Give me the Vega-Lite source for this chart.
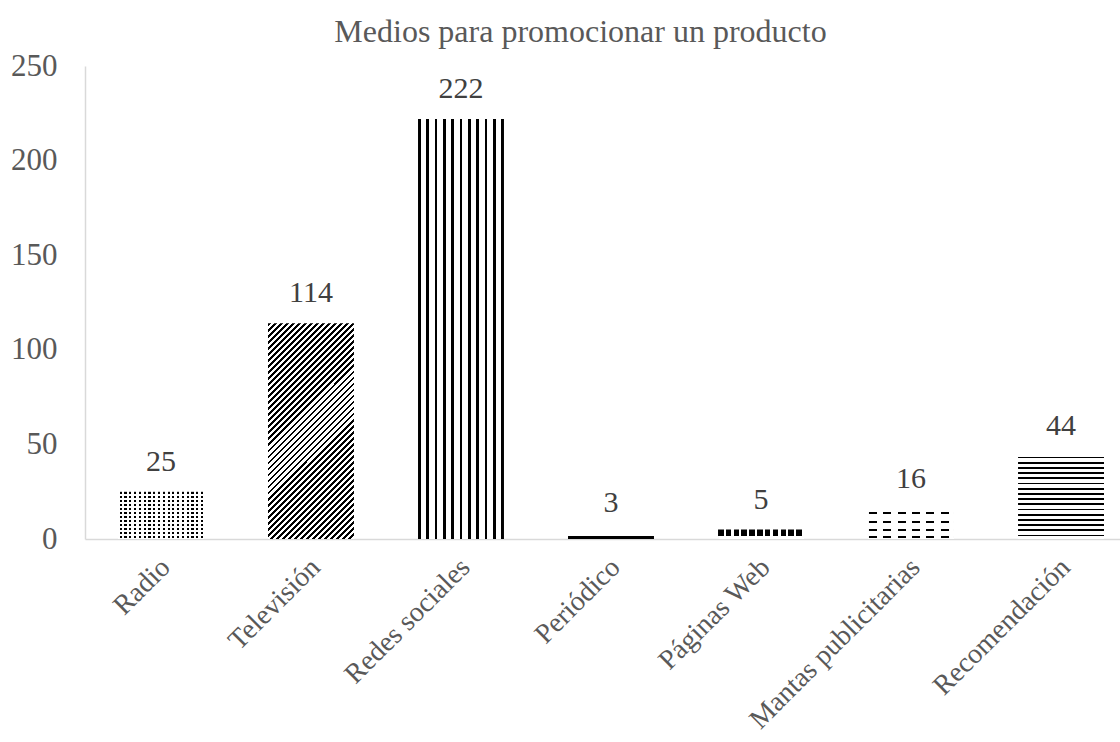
{
"$schema": "https://vega.github.io/schema/vega-lite/v6.json",
"width": 1035,
"height": 473,
"autosize": {"type": "none"},
"padding": {"left": 85, "top": 66, "right": 0, "bottom": 203},
"background": "white",
"config": {"view": {"stroke": null}, "font": "Liberation Serif"},
"title": {"text": "Medios para promocionar un producto", "font": "Liberation Serif", "fontSize": 32, "fontWeight": "normal", "color": "#595959", "anchor": "middle", "frame": "group", "dx": -22, "dy": 36, "baseline": "alphabetic", "offset": 12},
"data": {"values": [
{"medio": "Radio", "valor": 25},
{"medio": "Televisión", "valor": 114},
{"medio": "Redes sociales", "valor": 222},
{"medio": "Periódico", "valor": 3},
{"medio": "Páginas Web", "valor": 5},
{"medio": "Mantas publicitarias", "valor": 16},
{"medio": "Recomendación", "valor": 44}
]},
"encoding": {
"x": {"field": "medio", "type": "nominal", "sort": null,
"scale": {"domain": ["Radio", "Televisión", "Redes sociales", "Periódico", "Páginas Web", "Mantas publicitarias", "Recomendación"], "range": [0, 1052], "paddingInner": 0.427, "paddingOuter": 0.22},
"axis": {"title": null, "labelAngle": -45, "labelFont": "Liberation Serif", "labelFontSize": 28, "labelColor": "#595959", "labelLimit": 0, "ticks": false, "grid": false, "domainColor": "#d9d9d9", "domainWidth": 1.5, "labelPadding": 14, "labelOffset": -5}},
"y": {"field": "valor", "type": "quantitative",
"scale": {"domain": [0, 250]},
"axis": {"title": null, "values": [0, 50, 100, 150, 200, 250], "labelFont": "Liberation Serif", "labelFontSize": 31, "labelColor": "#595959", "ticks": false, "grid": false, "domainColor": "#d9d9d9", "domainWidth": 1.5, "labelPadding": 28}}
},
"layer": [
{"transform": [{"filter": "datum.medio === 'Radio'"}],
"mark": {"type": "bar", "fill": {"gradient": "linear", "x1": 0, "y1": 0, "x2": 1, "y2": 0, "stops": [
{"offset":0.02,"color":"#fff"},{"offset":0.02,"color":"#000"},{"offset":0.045,"color":"#000"},{"offset":0.045,"color":"#fff"},
{"offset":0.0756,"color":"#fff"},{"offset":0.0756,"color":"#000"},{"offset":0.1006,"color":"#000"},{"offset":0.1006,"color":"#fff"},
{"offset":0.1312,"color":"#fff"},{"offset":0.1312,"color":"#000"},{"offset":0.1562,"color":"#000"},{"offset":0.1562,"color":"#fff"},
{"offset":0.1868,"color":"#fff"},{"offset":0.1868,"color":"#000"},{"offset":0.2118,"color":"#000"},{"offset":0.2118,"color":"#fff"},
{"offset":0.2424,"color":"#fff"},{"offset":0.2424,"color":"#000"},{"offset":0.2674,"color":"#000"},{"offset":0.2674,"color":"#fff"},
{"offset":0.298,"color":"#fff"},{"offset":0.298,"color":"#000"},{"offset":0.323,"color":"#000"},{"offset":0.323,"color":"#fff"},
{"offset":0.3536,"color":"#fff"},{"offset":0.3536,"color":"#000"},{"offset":0.3786,"color":"#000"},{"offset":0.3786,"color":"#fff"},
{"offset":0.4092,"color":"#fff"},{"offset":0.4092,"color":"#000"},{"offset":0.4342,"color":"#000"},{"offset":0.4342,"color":"#fff"},
{"offset":0.4648,"color":"#fff"},{"offset":0.4648,"color":"#000"},{"offset":0.4898,"color":"#000"},{"offset":0.4898,"color":"#fff"},
{"offset":0.5204,"color":"#fff"},{"offset":0.5204,"color":"#000"},{"offset":0.5454,"color":"#000"},{"offset":0.5454,"color":"#fff"},
{"offset":0.576,"color":"#fff"},{"offset":0.576,"color":"#000"},{"offset":0.601,"color":"#000"},{"offset":0.601,"color":"#fff"},
{"offset":0.6316,"color":"#fff"},{"offset":0.6316,"color":"#000"},{"offset":0.6566,"color":"#000"},{"offset":0.6566,"color":"#fff"},
{"offset":0.6872,"color":"#fff"},{"offset":0.6872,"color":"#000"},{"offset":0.7122,"color":"#000"},{"offset":0.7122,"color":"#fff"},
{"offset":0.7428,"color":"#fff"},{"offset":0.7428,"color":"#000"},{"offset":0.7678,"color":"#000"},{"offset":0.7678,"color":"#fff"},
{"offset":0.7984,"color":"#fff"},{"offset":0.7984,"color":"#000"},{"offset":0.8234,"color":"#000"},{"offset":0.8234,"color":"#fff"},
{"offset":0.854,"color":"#fff"},{"offset":0.854,"color":"#000"},{"offset":0.879,"color":"#000"},{"offset":0.879,"color":"#fff"},
{"offset":0.9096,"color":"#fff"},{"offset":0.9096,"color":"#000"},{"offset":0.9346,"color":"#000"},{"offset":0.9346,"color":"#fff"},
{"offset":0.9652,"color":"#fff"},{"offset":0.9652,"color":"#000"},{"offset":0.9902,"color":"#000"},{"offset":0.9902,"color":"#fff"}
]}}},
{"transform": [{"filter": "datum.medio === 'Radio'"}],
"mark": {"type": "bar", "fill": {"gradient": "linear", "x1": 0, "y1": 0, "x2": 0, "y2": 1, "stops": [
{"offset":0.01,"color":"#fff"},{"offset":0.01,"color":"rgba(255,255,255,0)"},{"offset":0.052,"color":"rgba(255,255,255,0)"},{"offset":0.052,"color":"#fff"},
{"offset":0.0933,"color":"#fff"},{"offset":0.0933,"color":"rgba(255,255,255,0)"},{"offset":0.1353,"color":"rgba(255,255,255,0)"},{"offset":0.1353,"color":"#fff"},
{"offset":0.1767,"color":"#fff"},{"offset":0.1767,"color":"rgba(255,255,255,0)"},{"offset":0.2187,"color":"rgba(255,255,255,0)"},{"offset":0.2187,"color":"#fff"},
{"offset":0.26,"color":"#fff"},{"offset":0.26,"color":"rgba(255,255,255,0)"},{"offset":0.302,"color":"rgba(255,255,255,0)"},{"offset":0.302,"color":"#fff"},
{"offset":0.3433,"color":"#fff"},{"offset":0.3433,"color":"rgba(255,255,255,0)"},{"offset":0.3853,"color":"rgba(255,255,255,0)"},{"offset":0.3853,"color":"#fff"},
{"offset":0.4267,"color":"#fff"},{"offset":0.4267,"color":"rgba(255,255,255,0)"},{"offset":0.4687,"color":"rgba(255,255,255,0)"},{"offset":0.4687,"color":"#fff"},
{"offset":0.51,"color":"#fff"},{"offset":0.51,"color":"rgba(255,255,255,0)"},{"offset":0.552,"color":"rgba(255,255,255,0)"},{"offset":0.552,"color":"#fff"},
{"offset":0.5933,"color":"#fff"},{"offset":0.5933,"color":"rgba(255,255,255,0)"},{"offset":0.6353,"color":"rgba(255,255,255,0)"},{"offset":0.6353,"color":"#fff"},
{"offset":0.6767,"color":"#fff"},{"offset":0.6767,"color":"rgba(255,255,255,0)"},{"offset":0.7187,"color":"rgba(255,255,255,0)"},{"offset":0.7187,"color":"#fff"},
{"offset":0.76,"color":"#fff"},{"offset":0.76,"color":"rgba(255,255,255,0)"},{"offset":0.802,"color":"rgba(255,255,255,0)"},{"offset":0.802,"color":"#fff"},
{"offset":0.8433,"color":"#fff"},{"offset":0.8433,"color":"rgba(255,255,255,0)"},{"offset":0.8853,"color":"rgba(255,255,255,0)"},{"offset":0.8853,"color":"#fff"},
{"offset":0.9267,"color":"#fff"},{"offset":0.9267,"color":"rgba(255,255,255,0)"},{"offset":0.9687,"color":"rgba(255,255,255,0)"},{"offset":0.9687,"color":"#fff"}
]}}},
{"transform": [{"filter": "datum.medio === 'Televisión'"}],
"mark": {"type": "bar", "fill": {"gradient": "linear", "x1": 0, "y1": 0, "x2": 0.4812, "y2": 1.2069, "stops": [
{"offset":0,"color":"#000"},{"offset":0.009,"color":"#000"},{"offset":0.009,"color":"#fff"},{"offset":0.02,"color":"#fff"},
{"offset":0.02,"color":"#000"},{"offset":0.029,"color":"#000"},{"offset":0.029,"color":"#fff"},{"offset":0.04,"color":"#fff"},
{"offset":0.04,"color":"#000"},{"offset":0.049,"color":"#000"},{"offset":0.049,"color":"#fff"},{"offset":0.06,"color":"#fff"},
{"offset":0.06,"color":"#000"},{"offset":0.069,"color":"#000"},{"offset":0.069,"color":"#fff"},{"offset":0.08,"color":"#fff"},
{"offset":0.08,"color":"#000"},{"offset":0.089,"color":"#000"},{"offset":0.089,"color":"#fff"},{"offset":0.1,"color":"#fff"},
{"offset":0.1,"color":"#000"},{"offset":0.109,"color":"#000"},{"offset":0.109,"color":"#fff"},{"offset":0.12,"color":"#fff"},
{"offset":0.12,"color":"#000"},{"offset":0.129,"color":"#000"},{"offset":0.129,"color":"#fff"},{"offset":0.14,"color":"#fff"},
{"offset":0.14,"color":"#000"},{"offset":0.149,"color":"#000"},{"offset":0.149,"color":"#fff"},{"offset":0.16,"color":"#fff"},
{"offset":0.16,"color":"#000"},{"offset":0.169,"color":"#000"},{"offset":0.169,"color":"#fff"},{"offset":0.18,"color":"#fff"},
{"offset":0.18,"color":"#000"},{"offset":0.189,"color":"#000"},{"offset":0.189,"color":"#fff"},{"offset":0.2,"color":"#fff"},
{"offset":0.2,"color":"#000"},{"offset":0.209,"color":"#000"},{"offset":0.209,"color":"#fff"},{"offset":0.22,"color":"#fff"},
{"offset":0.22,"color":"#000"},{"offset":0.229,"color":"#000"},{"offset":0.229,"color":"#fff"},{"offset":0.24,"color":"#fff"},
{"offset":0.24,"color":"#000"},{"offset":0.249,"color":"#000"},{"offset":0.249,"color":"#fff"},{"offset":0.26,"color":"#fff"},
{"offset":0.26,"color":"#000"},{"offset":0.269,"color":"#000"},{"offset":0.269,"color":"#fff"},{"offset":0.28,"color":"#fff"},
{"offset":0.28,"color":"#000"},{"offset":0.289,"color":"#000"},{"offset":0.289,"color":"#fff"},{"offset":0.3,"color":"#fff"},
{"offset":0.3,"color":"#000"},{"offset":0.309,"color":"#000"},{"offset":0.309,"color":"#fff"},{"offset":0.32,"color":"#fff"},
{"offset":0.32,"color":"#000"},{"offset":0.329,"color":"#000"},{"offset":0.329,"color":"#fff"},{"offset":0.34,"color":"#fff"},
{"offset":0.34,"color":"#000"},{"offset":0.349,"color":"#000"},{"offset":0.349,"color":"#fff"},{"offset":0.36,"color":"#fff"},
{"offset":0.36,"color":"#000"},{"offset":0.369,"color":"#000"},{"offset":0.369,"color":"#fff"},{"offset":0.38,"color":"#fff"},
{"offset":0.38,"color":"#000"},{"offset":0.389,"color":"#000"},{"offset":0.389,"color":"#fff"},{"offset":0.4,"color":"#fff"},
{"offset":0.4,"color":"#000"},{"offset":0.409,"color":"#000"},{"offset":0.409,"color":"#fff"},{"offset":0.42,"color":"#fff"},
{"offset":0.42,"color":"#000"},{"offset":0.429,"color":"#000"},{"offset":0.429,"color":"#fff"},{"offset":0.44,"color":"#fff"},
{"offset":0.44,"color":"#000"},{"offset":0.449,"color":"#000"},{"offset":0.449,"color":"#fff"},{"offset":0.46,"color":"#fff"},
{"offset":0.46,"color":"#000"},{"offset":0.469,"color":"#000"},{"offset":0.469,"color":"#fff"},{"offset":0.48,"color":"#fff"},
{"offset":0.48,"color":"#000"},{"offset":0.489,"color":"#000"},{"offset":0.489,"color":"#fff"},{"offset":0.5,"color":"#fff"},
{"offset":0.5,"color":"#000"},{"offset":0.509,"color":"#000"},{"offset":0.509,"color":"#fff"},{"offset":0.52,"color":"#fff"},
{"offset":0.52,"color":"#000"},{"offset":0.529,"color":"#000"},{"offset":0.529,"color":"#fff"},{"offset":0.54,"color":"#fff"},
{"offset":0.54,"color":"#000"},{"offset":0.549,"color":"#000"},{"offset":0.549,"color":"#fff"},{"offset":0.56,"color":"#fff"},
{"offset":0.56,"color":"#000"},{"offset":0.569,"color":"#000"},{"offset":0.569,"color":"#fff"},{"offset":0.58,"color":"#fff"},
{"offset":0.58,"color":"#000"},{"offset":0.589,"color":"#000"},{"offset":0.589,"color":"#fff"},{"offset":0.6,"color":"#fff"},
{"offset":0.6,"color":"#000"},{"offset":0.609,"color":"#000"},{"offset":0.609,"color":"#fff"},{"offset":0.62,"color":"#fff"},
{"offset":0.62,"color":"#000"},{"offset":0.629,"color":"#000"},{"offset":0.629,"color":"#fff"},{"offset":0.64,"color":"#fff"},
{"offset":0.64,"color":"#000"},{"offset":0.649,"color":"#000"},{"offset":0.649,"color":"#fff"},{"offset":0.66,"color":"#fff"},
{"offset":0.66,"color":"#000"},{"offset":0.669,"color":"#000"},{"offset":0.669,"color":"#fff"},{"offset":0.68,"color":"#fff"},
{"offset":0.68,"color":"#000"},{"offset":0.689,"color":"#000"},{"offset":0.689,"color":"#fff"},{"offset":0.7,"color":"#fff"},
{"offset":0.7,"color":"#000"},{"offset":0.709,"color":"#000"},{"offset":0.709,"color":"#fff"},{"offset":0.72,"color":"#fff"},
{"offset":0.72,"color":"#000"},{"offset":0.729,"color":"#000"},{"offset":0.729,"color":"#fff"},{"offset":0.74,"color":"#fff"},
{"offset":0.74,"color":"#000"},{"offset":0.749,"color":"#000"},{"offset":0.749,"color":"#fff"},{"offset":0.76,"color":"#fff"},
{"offset":0.76,"color":"#000"},{"offset":0.769,"color":"#000"},{"offset":0.769,"color":"#fff"},{"offset":0.78,"color":"#fff"},
{"offset":0.78,"color":"#000"},{"offset":0.789,"color":"#000"},{"offset":0.789,"color":"#fff"},{"offset":0.8,"color":"#fff"},
{"offset":0.8,"color":"#000"},{"offset":0.809,"color":"#000"},{"offset":0.809,"color":"#fff"},{"offset":0.82,"color":"#fff"},
{"offset":0.82,"color":"#000"},{"offset":0.829,"color":"#000"},{"offset":0.829,"color":"#fff"},{"offset":0.84,"color":"#fff"},
{"offset":0.84,"color":"#000"},{"offset":0.849,"color":"#000"},{"offset":0.849,"color":"#fff"},{"offset":0.86,"color":"#fff"},
{"offset":0.86,"color":"#000"},{"offset":0.869,"color":"#000"},{"offset":0.869,"color":"#fff"},{"offset":0.88,"color":"#fff"},
{"offset":0.88,"color":"#000"},{"offset":0.889,"color":"#000"},{"offset":0.889,"color":"#fff"},{"offset":0.9,"color":"#fff"},
{"offset":0.9,"color":"#000"},{"offset":0.909,"color":"#000"},{"offset":0.909,"color":"#fff"},{"offset":0.92,"color":"#fff"},
{"offset":0.92,"color":"#000"},{"offset":0.929,"color":"#000"},{"offset":0.929,"color":"#fff"},{"offset":0.94,"color":"#fff"},
{"offset":0.94,"color":"#000"},{"offset":0.949,"color":"#000"},{"offset":0.949,"color":"#fff"},{"offset":0.96,"color":"#fff"},
{"offset":0.96,"color":"#000"},{"offset":0.969,"color":"#000"},{"offset":0.969,"color":"#fff"},{"offset":0.98,"color":"#fff"},
{"offset":0.98,"color":"#000"},{"offset":0.989,"color":"#000"},{"offset":0.989,"color":"#fff"},{"offset":1,"color":"#fff"}
]}}},
{"transform": [{"filter": "datum.medio === 'Redes sociales'"}],
"mark": {"type": "bar", "fill": {"gradient": "linear", "x1": 0, "y1": 0, "x2": 1, "y2": 0, "stops": [
{"offset":0,"color":"#000"},{"offset":0.03,"color":"#000"},{"offset":0.03,"color":"#fff"},{"offset":0.097,"color":"#fff"},
{"offset":0.097,"color":"#000"},{"offset":0.127,"color":"#000"},{"offset":0.127,"color":"#fff"},{"offset":0.194,"color":"#fff"},
{"offset":0.194,"color":"#000"},{"offset":0.224,"color":"#000"},{"offset":0.224,"color":"#fff"},{"offset":0.291,"color":"#fff"},
{"offset":0.291,"color":"#000"},{"offset":0.321,"color":"#000"},{"offset":0.321,"color":"#fff"},{"offset":0.388,"color":"#fff"},
{"offset":0.388,"color":"#000"},{"offset":0.418,"color":"#000"},{"offset":0.418,"color":"#fff"},{"offset":0.485,"color":"#fff"},
{"offset":0.485,"color":"#000"},{"offset":0.515,"color":"#000"},{"offset":0.515,"color":"#fff"},{"offset":0.582,"color":"#fff"},
{"offset":0.582,"color":"#000"},{"offset":0.612,"color":"#000"},{"offset":0.612,"color":"#fff"},{"offset":0.679,"color":"#fff"},
{"offset":0.679,"color":"#000"},{"offset":0.709,"color":"#000"},{"offset":0.709,"color":"#fff"},{"offset":0.776,"color":"#fff"},
{"offset":0.776,"color":"#000"},{"offset":0.806,"color":"#000"},{"offset":0.806,"color":"#fff"},{"offset":0.873,"color":"#fff"},
{"offset":0.873,"color":"#000"},{"offset":0.903,"color":"#000"},{"offset":0.903,"color":"#fff"},{"offset":0.97,"color":"#fff"},
{"offset":0.97,"color":"#000"},{"offset":1,"color":"#000"}
]}}},
{"transform": [{"filter": "datum.medio === 'Periódico'"}],
"mark": {"type": "bar", "fill": {"gradient": "linear", "x1": 0, "y1": 0, "x2": 0, "y2": 1, "stops": [
{"offset":0,"color":"#fff"},{"offset":0.55,"color":"#fff"},{"offset":0.55,"color":"#000"},{"offset":0.92,"color":"#000"},{"offset":0.92,"color":"#fff"},{"offset":1,"color":"#fff"}
]}}},
{"transform": [{"filter": "datum.medio === 'Páginas Web'"}],
"mark": {"type": "bar", "fill": {"gradient": "linear", "x1": 0, "y1": 0, "x2": 1, "y2": 0, "stops": [
{"offset":0,"color":"#000"},{"offset":0.064,"color":"#000"},{"offset":0.064,"color":"#fff"},{"offset":0.0909,"color":"#fff"},
{"offset":0.0909,"color":"#000"},{"offset":0.1549,"color":"#000"},{"offset":0.1549,"color":"#fff"},{"offset":0.1818,"color":"#fff"},
{"offset":0.1818,"color":"#000"},{"offset":0.2458,"color":"#000"},{"offset":0.2458,"color":"#fff"},{"offset":0.2727,"color":"#fff"},
{"offset":0.2727,"color":"#000"},{"offset":0.3367,"color":"#000"},{"offset":0.3367,"color":"#fff"},{"offset":0.3636,"color":"#fff"},
{"offset":0.3636,"color":"#000"},{"offset":0.4276,"color":"#000"},{"offset":0.4276,"color":"#fff"},{"offset":0.4545,"color":"#fff"},
{"offset":0.4545,"color":"#000"},{"offset":0.5185,"color":"#000"},{"offset":0.5185,"color":"#fff"},{"offset":0.5455,"color":"#fff"},
{"offset":0.5455,"color":"#000"},{"offset":0.6095,"color":"#000"},{"offset":0.6095,"color":"#fff"},{"offset":0.6364,"color":"#fff"},
{"offset":0.6364,"color":"#000"},{"offset":0.7004,"color":"#000"},{"offset":0.7004,"color":"#fff"},{"offset":0.7273,"color":"#fff"},
{"offset":0.7273,"color":"#000"},{"offset":0.7913,"color":"#000"},{"offset":0.7913,"color":"#fff"},{"offset":0.8182,"color":"#fff"},
{"offset":0.8182,"color":"#000"},{"offset":0.8822,"color":"#000"},{"offset":0.8822,"color":"#fff"},{"offset":0.9091,"color":"#fff"},
{"offset":0.9091,"color":"#000"},{"offset":0.9731,"color":"#000"},{"offset":0.9731,"color":"#fff"},{"offset":1,"color":"#fff"}
]}}},
{"transform": [{"filter": "datum.medio === 'Páginas Web'"}],
"mark": {"type": "bar", "fill": {"gradient": "linear", "x1": 0, "y1": 0, "x2": 0, "y2": 1, "stops": [
{"offset":0,"color":"rgba(255,255,255,0)"},{"offset":0.65,"color":"rgba(255,255,255,0)"},{"offset":0.65,"color":"#fff"},{"offset":1,"color":"#fff"}
]}}},
{"transform": [{"filter": "datum.medio === 'Mantas publicitarias'"}],
"mark": {"type": "bar", "fill": {"gradient": "linear", "x1": 0, "y1": 0, "x2": 0, "y2": 1, "stops": [
{"offset":0.12,"color":"#fff"},{"offset":0.12,"color":"#000"},{"offset":0.186,"color":"#000"},{"offset":0.186,"color":"#fff"},
{"offset":0.395,"color":"#fff"},{"offset":0.395,"color":"#000"},{"offset":0.461,"color":"#000"},{"offset":0.461,"color":"#fff"},
{"offset":0.67,"color":"#fff"},{"offset":0.67,"color":"#000"},{"offset":0.736,"color":"#000"},{"offset":0.736,"color":"#fff"},
{"offset":0.91,"color":"#fff"},{"offset":0.91,"color":"#000"},{"offset":0.976,"color":"#000"},{"offset":0.976,"color":"#fff"}
]}}},
{"transform": [{"filter": "datum.medio === 'Mantas publicitarias'"}],
"mark": {"type": "bar", "fill": {"gradient": "linear", "x1": 0, "y1": 0, "x2": 1, "y2": 0, "stops": [
{"offset":0.01,"color":"#fff"},{"offset":0.01,"color":"rgba(255,255,255,0)"},{"offset":0.103,"color":"rgba(255,255,255,0)"},{"offset":0.103,"color":"#fff"},
{"offset":0.1767,"color":"#fff"},{"offset":0.1767,"color":"rgba(255,255,255,0)"},{"offset":0.2697,"color":"rgba(255,255,255,0)"},{"offset":0.2697,"color":"#fff"},
{"offset":0.3433,"color":"#fff"},{"offset":0.3433,"color":"rgba(255,255,255,0)"},{"offset":0.4363,"color":"rgba(255,255,255,0)"},{"offset":0.4363,"color":"#fff"},
{"offset":0.51,"color":"#fff"},{"offset":0.51,"color":"rgba(255,255,255,0)"},{"offset":0.603,"color":"rgba(255,255,255,0)"},{"offset":0.603,"color":"#fff"},
{"offset":0.6767,"color":"#fff"},{"offset":0.6767,"color":"rgba(255,255,255,0)"},{"offset":0.7697,"color":"rgba(255,255,255,0)"},{"offset":0.7697,"color":"#fff"},
{"offset":0.8433,"color":"#fff"},{"offset":0.8433,"color":"rgba(255,255,255,0)"},{"offset":0.9363,"color":"rgba(255,255,255,0)"},{"offset":0.9363,"color":"#fff"}
]}}},
{"transform": [{"filter": "datum.medio === 'Recomendación'"}],
"mark": {"type": "bar", "fill": {"gradient": "linear", "x1": 0, "y1": 0, "x2": 0, "y2": 1, "stops": [
{"offset":0.01,"color":"#fff"},{"offset":0.01,"color":"#000"},{"offset":0.032,"color":"#000"},{"offset":0.032,"color":"#fff"},
{"offset":0.0725,"color":"#fff"},{"offset":0.0725,"color":"#000"},{"offset":0.0945,"color":"#000"},{"offset":0.0945,"color":"#fff"},
{"offset":0.135,"color":"#fff"},{"offset":0.135,"color":"#000"},{"offset":0.157,"color":"#000"},{"offset":0.157,"color":"#fff"},
{"offset":0.1975,"color":"#fff"},{"offset":0.1975,"color":"#000"},{"offset":0.2195,"color":"#000"},{"offset":0.2195,"color":"#fff"},
{"offset":0.26,"color":"#fff"},{"offset":0.26,"color":"#000"},{"offset":0.282,"color":"#000"},{"offset":0.282,"color":"#fff"},
{"offset":0.3225,"color":"#fff"},{"offset":0.3225,"color":"#000"},{"offset":0.3445,"color":"#000"},{"offset":0.3445,"color":"#fff"},
{"offset":0.385,"color":"#fff"},{"offset":0.385,"color":"#000"},{"offset":0.407,"color":"#000"},{"offset":0.407,"color":"#fff"},
{"offset":0.4475,"color":"#fff"},{"offset":0.4475,"color":"#000"},{"offset":0.4695,"color":"#000"},{"offset":0.4695,"color":"#fff"},
{"offset":0.51,"color":"#fff"},{"offset":0.51,"color":"#000"},{"offset":0.532,"color":"#000"},{"offset":0.532,"color":"#fff"},
{"offset":0.5725,"color":"#fff"},{"offset":0.5725,"color":"#000"},{"offset":0.5945,"color":"#000"},{"offset":0.5945,"color":"#fff"},
{"offset":0.635,"color":"#fff"},{"offset":0.635,"color":"#000"},{"offset":0.657,"color":"#000"},{"offset":0.657,"color":"#fff"},
{"offset":0.6975,"color":"#fff"},{"offset":0.6975,"color":"#000"},{"offset":0.7195,"color":"#000"},{"offset":0.7195,"color":"#fff"},
{"offset":0.76,"color":"#fff"},{"offset":0.76,"color":"#000"},{"offset":0.782,"color":"#000"},{"offset":0.782,"color":"#fff"},
{"offset":0.8225,"color":"#fff"},{"offset":0.8225,"color":"#000"},{"offset":0.8445,"color":"#000"},{"offset":0.8445,"color":"#fff"},
{"offset":0.885,"color":"#fff"},{"offset":0.885,"color":"#000"},{"offset":0.907,"color":"#000"},{"offset":0.907,"color":"#fff"},
{"offset":0.9475,"color":"#fff"},{"offset":0.9475,"color":"#000"},{"offset":0.9695,"color":"#000"},{"offset":0.9695,"color":"#fff"}
]}}},
{"mark": {"type": "text", "baseline": "alphabetic", "dy": -21, "font": "Liberation Serif", "fontSize": 30, "color": "#404040"},
"encoding": {"text": {"field": "valor", "type": "quantitative"}}}
]
}
